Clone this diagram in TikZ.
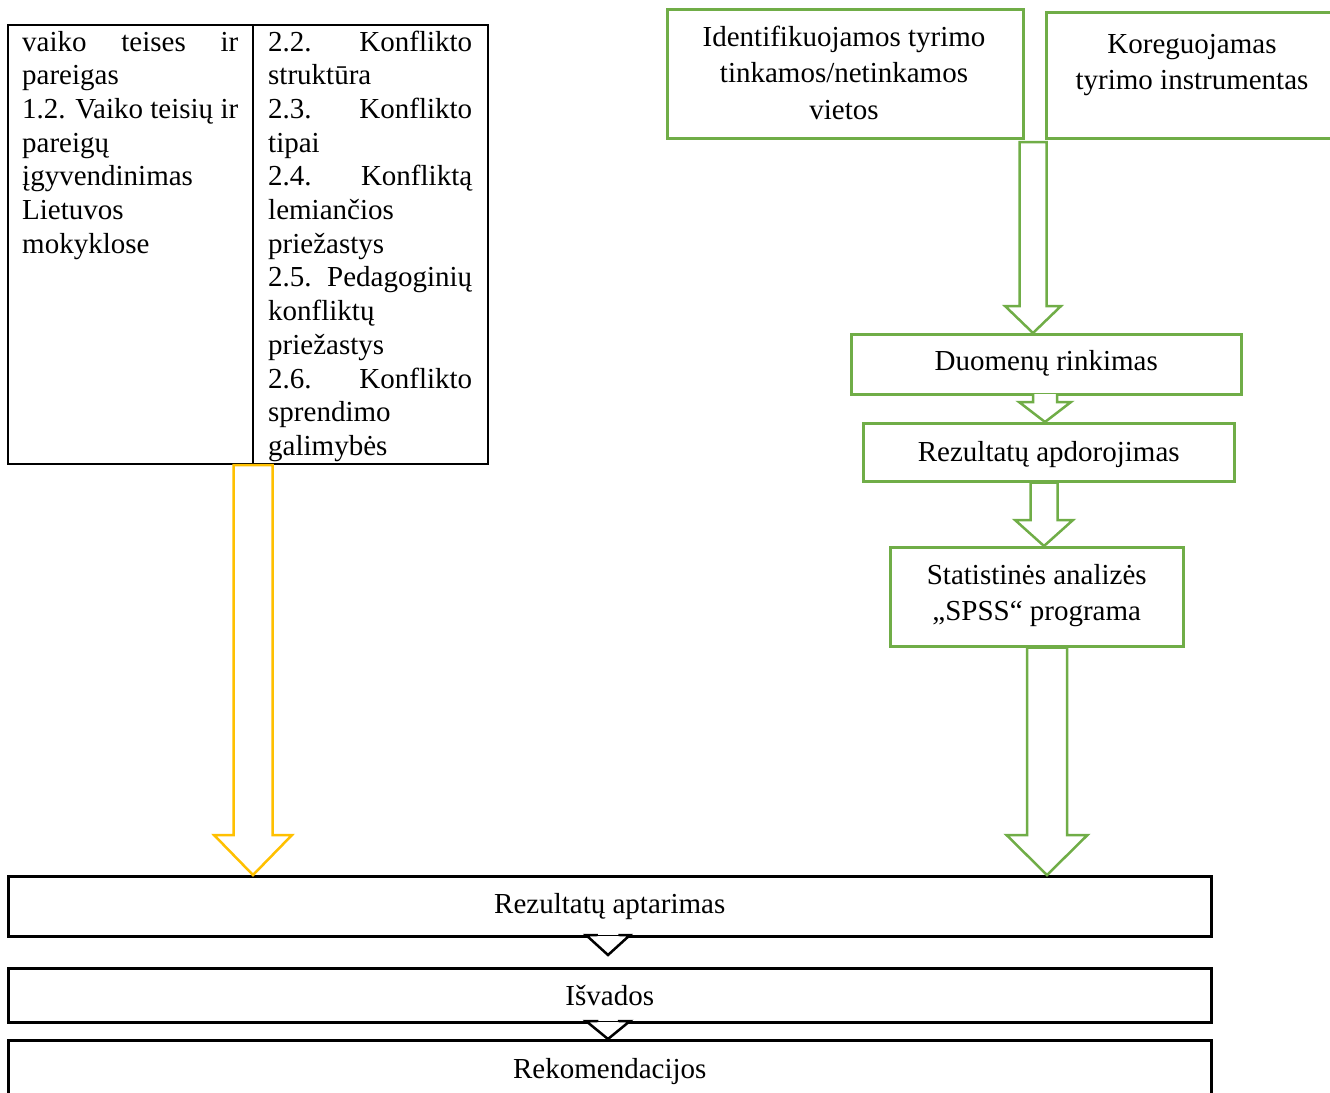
\documentclass[tikz,border=0pt]{standalone}
\usepackage{fontspec}
\setmainfont{Liberation Serif}
\usetikzlibrary{calc}
\definecolor{grn}{HTML}{70AD47}
\definecolor{ylw}{HTML}{FFC000}
% #1 style, #2 top point, #3 tip point, #4 shaft half width, #5 wing half width,
% #6 head length, #7 raise of the top, #8 closing
\newcommand{\blockarrow}[8]{%
  \filldraw[#1] let \p1=#2, \p2=#3 in
    (\x2-#4pt,\y1+#7pt) -- (\x2-#4pt,\y2+#6pt) -- (\x2-#5pt,\y2+#6pt) -- (\x2,\y2)
    -- (\x2+#5pt,\y2+#6pt) -- (\x2+#4pt,\y2+#6pt) -- (\x2+#4pt,\y1+#7pt) #8;}
\begin{document}
\begin{tikzpicture}[x=1pt,y=-1pt,
  gbox/.style={draw=grn,line width=2.5pt,fill=white,inner sep=0pt,rectangle,anchor=north west},
  kbox/.style={draw=black,line width=2.5pt,fill=white,inner sep=0pt,rectangle,anchor=north west},
  tbox/.style={draw=black,line width=2pt,inner sep=0pt,rectangle,anchor=north west},
  lbl/.style={inner sep=0pt,anchor=base,font=\fontsize{29}{36.5}\selectfont},
  cell/.style={inner sep=0pt,anchor=base west,font=\fontsize{29}{33.7}\selectfont},
  garrow/.style={draw=grn,line width=2.5pt,fill=white,line join=miter},
  yarrow/.style={draw=ylw,line width=2.5pt,fill=white,line join=miter},
  karrow/.style={draw=black,line width=2.5pt,fill=white,line join=miter}]
\useasboundingbox (0,0) rectangle (1330,1092);
\clip (0,0) rectangle (1330,1092);

% ---- table (top left)
\node[tbox,minimum width=480pt,minimum height=439pt] (tab) at (7,24) {};
\draw[line width=2pt] ($(tab.north west)+(246,0)$) -- ($(tab.south west)+(246,0)$);
\node[cell] (lefttxt) at (22,51) {\begin{tabular}[t]{@{}l@{}}
\makebox[216pt][s]{vaiko teises ir}\\
pareigas\\
\makebox[216pt][s]{1.2. Vaiko teisių ir}\\
pareigų\\
įgyvendinimas\\
Lietuvos\\
mokyklose
\end{tabular}};
\node[cell] (righttxt) at (268,51) {\begin{tabular}[t]{@{}l@{}}
\makebox[204pt][s]{2.2. Konflikto}\\
struktūra\\
\makebox[204pt][s]{2.3. Konflikto}\\
tipai\\
\makebox[204pt][s]{2.4. Konfliktą}\\
lemiančios\\
priežastys\\
\makebox[204pt][s]{2.5. Pedagoginių}\\
konfliktų\\
priežastys\\
\makebox[204pt][s]{2.6. Konflikto}\\
sprendimo\\
galimybės
\end{tabular}};

% ---- green boxes
\node[gbox,minimum width=356pt,minimum height=129pt] (ident) at (666,8) {};
\node[lbl] (identtxt) at (844,46) {\begin{tabular}[t]{@{}c@{}}Identifikuojamos tyrimo\\tinkamos/netinkamos\\vietos\end{tabular}};
\node[gbox,minimum width=294pt,minimum height=126pt] (koreg) at (1045,11) {};
\node[lbl] (koregtxt) at (1192,53) {\begin{tabular}[t]{@{}c@{}}Koreguojamas\\tyrimo instrumentas\end{tabular}};

\node[gbox,minimum width=390pt,minimum height=60pt] (duom) at (850,333) {};
\node[lbl] (duomtxt) at (duom.center |- 0,370) {Duomenų rinkimas};
\node[gbox,minimum width=371pt,minimum height=58pt] (rezA) at (862,422) {};
\node[lbl] (rezAtxt) at (rezA.center |- 0,461) {Rezultatų apdorojimas};
\node[gbox,minimum width=293pt,minimum height=99pt] (stat) at (889,546) {};
\node[lbl] (stattxt) at (stat.center |- 0,584) {\begin{tabular}[t]{@{}c@{}}Statistinės analizės\\„SPSS“ programa\end{tabular}};

% ---- black boxes (bottom)
\node[kbox,minimum width=1203pt,minimum height=60pt] (rap) at (7,875) {};
\node[lbl] (raptxt) at (rap.center |- 0,913) {Rezultatų aptarimas};
\node[kbox,minimum width=1203pt,minimum height=54pt] (isv) at (7,967) {};
\node[lbl] (isvtxt) at (isv.center |- 0,1005) {Išvados};
\node[kbox,minimum width=1203pt,minimum height=72pt] (rek) at (7,1039) {};
\node[lbl] (rektxt) at (rek.center |- 0,1078) {Rekomendacijos};

% ---- block arrows
\coordinate (a1top) at (1033,142);
\coordinate (a6tip) at (608,955);
\blockarrow{garrow}{(a1top)}{(1033,0 |- duom.north)}{13.5}{28}{27}{0}{-- cycle}
\blockarrow{garrow}{(duom.south)}{(1045,0 |- rezA.north)}{12}{26}{20}{1.5}{}
\blockarrow{garrow}{(rezA.south)}{(1044,0 |- stat.north)}{13.5}{29}{26}{0}{-- cycle}
\blockarrow{garrow}{(stat.south)}{(1047,0 |- rap.north)}{20}{40.5}{40}{0}{-- cycle}
\blockarrow{yarrow}{(tab.south)}{(253,0 |- rap.north)}{19.5}{39}{40}{0}{-- cycle}
\blockarrow{karrow}{(rap.south)}{(a6tip)}{11.5}{22}{20}{1.5}{}
\blockarrow{karrow}{(isv.south)}{(608,0 |- rek.north)}{11}{22}{18}{1.5}{}
\end{tikzpicture}
\end{document}
